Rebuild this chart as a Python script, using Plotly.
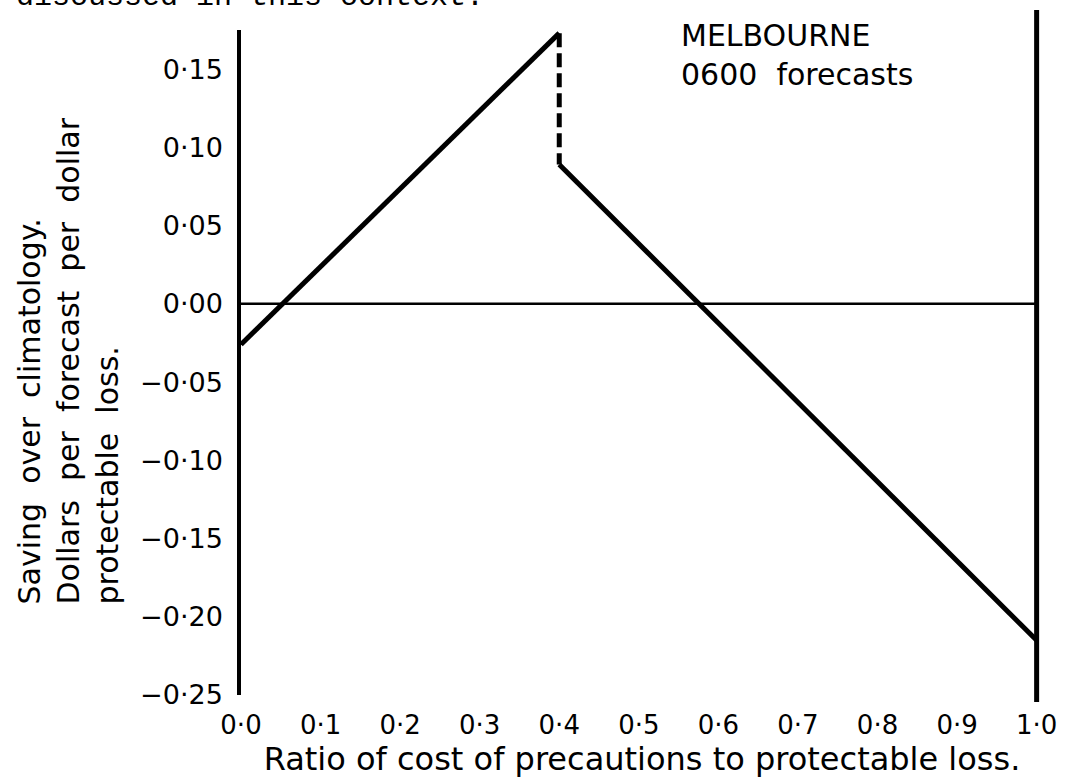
import plotly.graph_objects as go

# ---- data ----
rise_x = [0.0, 0.4]
rise_y = [-0.026, 0.173]
drop_x = [0.4, 0.4]
drop_y = [0.173, 0.089]
fall_x = [0.4, 1.0]
fall_y = [0.089, -0.215]
zero_x = [0.0, 1.0]
zero_y = [0.0, 0.0]

x_ticks = [0.0, 0.1, 0.2, 0.3, 0.4, 0.5, 0.6, 0.7, 0.8, 0.9, 1.0]
x_labels = ["0·0", "0·1", "0·2", "0·3", "0·4", "0·5", "0·6", "0·7", "0·8", "0·9", "1·0"]
y_ticks = [0.15, 0.10, 0.05, 0.0, -0.05, -0.10, -0.15, -0.20, -0.25]
y_labels = ["0·15", "0·10", "0·05", "0·00", "−0·05", "−0·10", "−0·15", "−0·20", "−0·25"]

FONT = "DejaVu Sans"
W, H = 1068, 781
L, R, T, B = 241, 25, 30, 86
PH = H - T - B
PW = W - L - R


def py(p):
    return (H - B - p) / PH


def px(p):
    return (p - L) / PW


fig = go.Figure()
fig.add_trace(go.Scatter(x=zero_x, y=zero_y, mode="lines",
                         line=dict(color="black", width=2.5), showlegend=False))
fig.add_trace(go.Scatter(x=rise_x, y=rise_y, mode="lines",
                         line=dict(color="black", width=5), showlegend=False))
fig.add_trace(go.Scatter(x=drop_x, y=drop_y, mode="lines",
                         line=dict(color="black", width=5, dash="14px,6px"), showlegend=False))
fig.add_trace(go.Scatter(x=fall_x, y=fall_y, mode="lines",
                         line=dict(color="black", width=5), showlegend=False))

# right-hand vertical line at ratio 1.0
fig.add_shape(type="line", xref="x", yref="paper", x0=1.0, x1=1.0,
              y0=py(702), y1=py(10), line=dict(color="black", width=5))

fig.update_layout(
    width=W, height=H,
    margin=dict(l=L, r=R, t=T, b=B),
    paper_bgcolor="white", plot_bgcolor="white",
    font=dict(family=FONT, color="black"),
    xaxis=dict(range=[0, 1.008], tickvals=x_ticks, ticktext=x_labels, automargin=False,
               showgrid=False, zeroline=False, showline=False, ticks="",
               tickfont=dict(size=26, family=FONT), ticklabelstandoff=12,
               title=dict(text="Ratio of cost of precautions to protectable loss.",
                          font=dict(size=32, family=FONT), standoff=2)),
    yaxis=dict(range=[-0.25, 0.175], tickvals=y_ticks, ticktext=y_labels, automargin=False,
               showgrid=False, zeroline=False, showline=True, linecolor="black",
               linewidth=3.5, ticks="", tickfont=dict(size=27, family=FONT),
               ticklabelstandoff=9),
    annotations=[
        dict(text="MELBOURNE<br>0600  forecasts", xref="paper", yref="paper",
             x=px(679), y=py(16), xanchor="left", yanchor="top",
             align="left", showarrow=False, font=dict(size=30, family=FONT)),
        dict(text="Saving  over  climatology.<br>Dollars  per  forecast  per  dollar<br>protectable  loss.",
             xref="paper", yref="paper", x=px(68), y=py(607),
             xanchor="center", yanchor="bottom", align="left", textangle=-90,
             showarrow=False, font=dict(size=30, family=FONT)),
        dict(text="discussed in this context.", xref="paper", yref="paper",
             x=px(14), y=py(16), xanchor="left", yanchor="bottom",
             showarrow=False, font=dict(size=30, family="Liberation Mono")),
    ],
)

fig.write_html("out.html", config={"displayModeBar": False},
               post_script="document.body.style.margin='0px';document.body.style.overflow='hidden';")
